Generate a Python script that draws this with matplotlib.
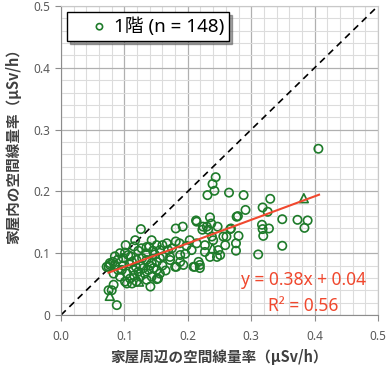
import numpy as np
import matplotlib
matplotlib.use("Agg")
from matplotlib import pyplot as plt
from matplotlib.ticker import MultipleLocator

plt.rcParams['font.family'] = ['Noto Sans CJK JP', 'DejaVu Sans']
latin = ['Noto Sans', 'Noto Sans CJK JP']

# outdoor (x) vs indoor (y) dose rate, uSv/h
out_circ = [0.406, 0.373, 0.389, 0.384, 0.349, 0.349, 0.311, 0.330, 0.318, 0.326,
            0.317, 0.318, 0.319, 0.328, 0.288, 0.265, 0.291, 0.279, 0.268, 0.280,
            0.276, 0.276, 0.244, 0.239, 0.242, 0.231, 0.126, 0.213, 0.181, 0.192,
            0.235, 0.237, 0.224, 0.232, 0.247, 0.238, 0.256, 0.267, 0.277,
            0.143, 0.151, 0.139, 0.156, 0.167, 0.169, 0.181, 0.187, 0.203, 0.214, 0.196, 0.206,
            0.102, 0.101, 0.117, 0.115, 0.122, 0.135, 0.134,
            0.085, 0.082, 0.090, 0.077, 0.075, 0.098, 0.106, 0.112, 0.119, 0.125,
            0.135, 0.143, 0.151, 0.156, 0.161, 0.172, 0.182, 0.193, 0.188,
            0.209, 0.219, 0.217,
            0.096, 0.104, 0.109, 0.114, 0.122, 0.125, 0.132, 0.138, 0.146, 0.151,
            0.153, 0.156, 0.143, 0.104, 0.101, 0.112, 0.119,
            0.141, 0.151, 0.083, 0.080, 0.075, 0.088,
            0.072, 0.077, 0.085, 0.090, 0.083, 0.093,
            0.172, 0.180, 0.188,
            0.230, 0.240, 0.227, 0.235, 0.246, 0.251, 0.259, 0.223,
            0.214, 0.227, 0.248, 0.261, 0.211, 0.219,
            0.110, 0.128, 0.118, 0.130, 0.140, 0.148, 0.160, 0.165, 0.098, 0.108,
            0.127, 0.145, 0.160, 0.175, 0.198, 0.115, 0.135, 0.093]
in_circ = [0.269, 0.154, 0.153, 0.141, 0.155, 0.112, 0.098, 0.188, 0.174, 0.167,
           0.146, 0.139, 0.128, 0.140, 0.194, 0.198, 0.170, 0.160, 0.140, 0.128,
           0.116, 0.104, 0.223, 0.212, 0.201, 0.194, 0.139, 0.153, 0.140, 0.143,
           0.158, 0.148, 0.143, 0.138, 0.143, 0.127, 0.127, 0.139, 0.159,
           0.121, 0.113, 0.110, 0.105, 0.116, 0.105, 0.119, 0.116, 0.121, 0.116, 0.099, 0.105,
           0.113, 0.101, 0.121, 0.111, 0.104, 0.110, 0.100,
           0.095, 0.086, 0.090, 0.081, 0.078, 0.092, 0.097, 0.086, 0.089, 0.081,
           0.089, 0.084, 0.086, 0.092, 0.095, 0.094, 0.078, 0.081, 0.097,
           0.078, 0.081, 0.086,
           0.073, 0.067, 0.059, 0.073, 0.070, 0.062, 0.067, 0.073, 0.076, 0.073,
           0.059, 0.067, 0.062, 0.051, 0.054, 0.051, 0.054,
           0.046, 0.058, 0.049, 0.040, 0.040, 0.016,
           0.078, 0.084, 0.081, 0.073, 0.067, 0.062,
           0.089, 0.078, 0.086,
           0.143, 0.121, 0.113, 0.094, 0.094, 0.097, 0.113, 0.138,
           0.151, 0.102, 0.105, 0.127, 0.078, 0.076,
           0.095, 0.092, 0.078, 0.076, 0.080, 0.098, 0.080, 0.072, 0.080, 0.083,
           0.108, 0.104, 0.113, 0.108, 0.112, 0.064, 0.057, 0.100]
out_tri = [0.383, 0.239, 0.123, 0.077]
in_tri = [0.189, 0.108, 0.054, 0.031]

slope, icept = 0.38, 0.04
fit_x = [0.075, 0.407]
r2 = 0.56
n = len(out_circ) + len(out_tri)

green = '#1e7b2a'
red = '#f0482e'
grey = '#595959'

fig = plt.figure(figsize=(3.87, 3.68), dpi=100)
ax = fig.add_axes([61/387, 53/368, 317/387, 309/368])

ax.scatter(out_circ, in_circ, s=36, facecolors='none', edgecolors=green,
           linewidths=1.2, zorder=3, label='1階 (n = %d)' % n)
ax.scatter(out_tri, in_tri, s=40, marker='^', facecolors='none', edgecolors=green,
           linewidths=1.2, zorder=3)

ax.plot([0, 0.5], [0, 0.5], color='black', ls=(0, (4, 3)), lw=1.2, zorder=2)
fx = np.array(fit_x)
ax.plot(fx, slope*fx + icept, color=red, lw=1.5, zorder=4)

ax.text(0.382, 0.057, 'y = %.2fx + %.2f' % (slope, icept), color=red, family=latin,
        fontsize=12.5, ha='center', va='center', zorder=5)
ax.text(0.382, 0.015, 'R² = %.2f' % r2, color=red, family=latin,
        fontsize=12.5, ha='center', va='center', zorder=5)

ax.set_xlim(0, 0.5)
ax.set_ylim(0, 0.5)
ax.xaxis.set_minor_locator(MultipleLocator(0.02))
ax.yaxis.set_minor_locator(MultipleLocator(0.02))
ax.grid(which='major', color='#b0b0b0', lw=0.9, zorder=0)
ax.grid(which='minor', color='#dcdcdc', lw=0.8, zorder=0)
ax.set_axisbelow(True)
for s in ax.spines.values():
    s.set_color('#c8c8c8')
ax.spines['left'].set_color('#8c8c8c')
ax.spines['bottom'].set_color('#8c8c8c')

ticks = np.arange(0, 0.51, 0.1)
ax.set_xticks(ticks)
ax.set_xticklabels(['%.1f' % v for v in ticks], family=latin)
ax.set_yticks(ticks)
ax.set_yticklabels(['0'] + ['%.1f' % v for v in ticks[1:]], family=latin)
ax.tick_params(axis='both', which='major', labelsize=8.5, labelcolor=grey,
               color='#8c8c8c', length=4)
ax.tick_params(axis='x', pad=7)
ax.tick_params(which='minor', length=0)

ax.set_xlabel('家屋周辺の空間線量率（μSv/h）', fontsize=10.5, fontweight='bold',
              color='#404040', labelpad=4)
ax.set_ylabel('家屋内の空間線量率（μSv/h）', fontsize=10.5, fontweight='bold',
              color='#404040')
ax.yaxis.set_label_coords(-0.125, 0.557)

leg = ax.legend(loc='upper left', bbox_to_anchor=(0.019, 0.981), borderaxespad=0,
                prop={'family': latin, 'size': 13.5}, frameon=True, fancybox=False,
                shadow=True, framealpha=1, edgecolor='black', handlelength=2.9,
                handletextpad=-0.7, borderpad=0.28, markerscale=0.75)
leg.get_frame().set_linewidth(1.0)

fig.savefig('out.png', dpi=100)
